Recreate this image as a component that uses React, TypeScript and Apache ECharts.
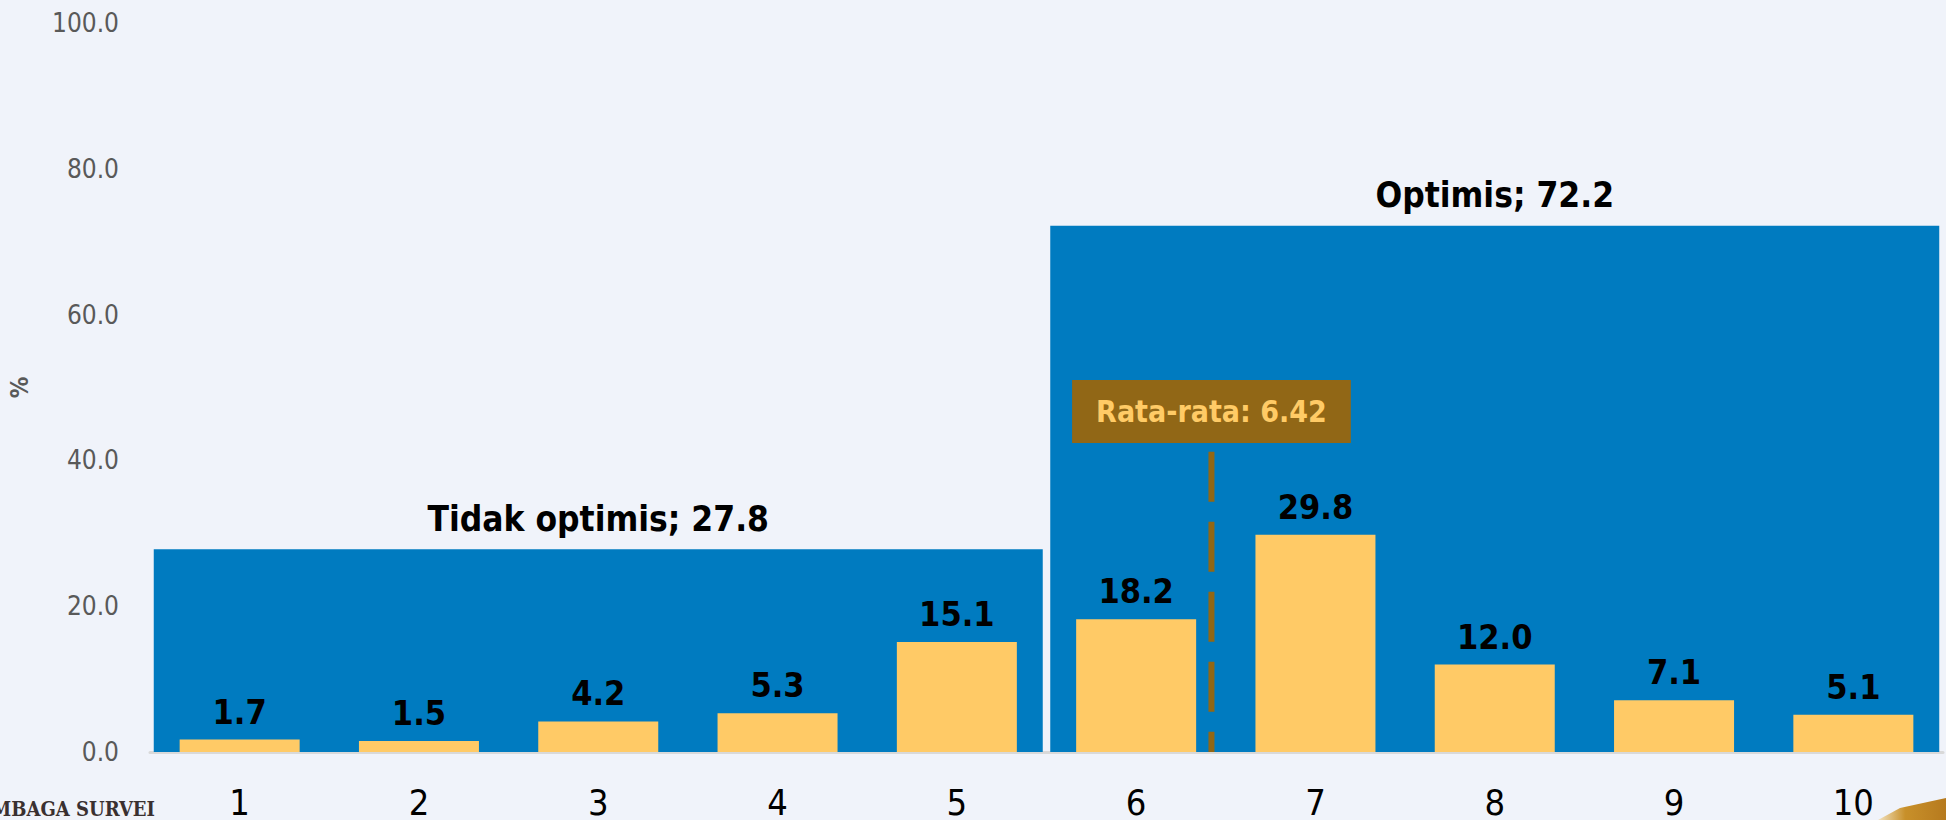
import React, { useEffect, useRef } from "react";
import * as echarts from "echarts";

const categories = ["1", "2", "3", "4", "5", "6", "7", "8", "9", "10"];
const values = [1.7, 1.5, 4.2, 5.3, 15.1, 18.2, 29.8, 12.0, 7.1, 5.1];
const groupNames = ["Tidak optimis", "Optimis"];
const groupValues = [27.8, 72.2];
const meanValue = 6.42;
const meanLineTop = 41.2;
const meanLabelY = 46.7;
const yTicks = [0, 20, 40, 60, 80, 100];

const FONT = "'Liberation Sans Narrow', 'DejaVu Sans Condensed', 'Roboto', sans-serif";

export default function App() {
  const ref = useRef<HTMLDivElement>(null);
  useEffect(() => {
    document.body.style.margin = "0";
    const chart = echarts.init(ref.current!, null, { renderer: "svg" });
    chart.setOption({
      animation: false,
      backgroundColor: "#F0F3FA",
      textStyle: { fontFamily: FONT },
      grid: { left: 150, right: 3, top: 23, bottom: 62 },
      xAxis: [
        {
          type: "category",
          data: categories,
          axisLine: { lineStyle: { color: "#D9D9D9", width: 3 } },
          axisTick: { show: false },
          axisLabel: { color: "#000", fontSize: 36, margin: 32, fontFamily: FONT },
        },
        {
          type: "category",
          data: groupNames,
          show: false,
        },
        {
          type: "value",
          min: 0.5,
          max: 10.5,
          show: false,
        },
      ],
      yAxis: {
        type: "value",
        min: yTicks[0],
        max: yTicks[yTicks.length - 1],
        interval: 20,
        name: "%",
        nameLocation: "middle",
        nameRotate: 90,
        nameGap: 118,
        nameTextStyle: { color: "#595959", fontSize: 24, fontWeight: "bold", fontFamily: FONT },
        axisLine: { show: false },
        axisTick: { show: false },
        splitLine: { show: false },
        axisLabel: {
          color: "#595959",
          fontSize: 26,
          margin: 31,
          fontFamily: FONT,
          formatter: (v: number) => v.toFixed(1),
        },
      },
      series: [
        {
          type: "bar",
          xAxisIndex: 1,
          data: groupValues,
          barWidth: 889,
          itemStyle: { color: "#007BC0" },
          z: 1,
          label: {
            show: true,
            position: "top",
            distance: 13,
            color: "#000",
            fontSize: 35,
            fontWeight: "bold",
            fontFamily: FONT,
            formatter: (p: any) => `${p.name}; ${p.value.toFixed(1)}`,
          },
        },
        {
          type: "bar",
          xAxisIndex: 0,
          data: values,
          barWidth: 120,
          itemStyle: { color: "#FFCA66" },
          z: 3,
          label: {
            show: true,
            position: "top",
            distance: 11,
            color: "#000",
            fontSize: 34,
            fontWeight: "bold",
            fontFamily: FONT,
            formatter: (p: any) => p.value.toFixed(1),
          },
        },
        {
          type: "line",
          xAxisIndex: 2,
          data: [
            [meanValue, meanLineTop],
            [meanValue, 0],
          ],
          symbol: "none",
          lineStyle: { color: "#916716", width: 6, type: [50, 20] },
          z: 4,
        },
        {
          type: "scatter",
          xAxisIndex: 2,
          data: [[meanValue, meanLabelY]],
          symbolSize: 1,
          itemStyle: { color: "rgba(0,0,0,0)", opacity: 1 },
          z: 5,
          label: {
            show: true,
            position: "inside",
            formatter: () => `Rata-rata: ${meanValue.toFixed(2)}`,
            backgroundColor: "#916716",
            color: "#FFCB66",
            fontSize: 30,
            fontWeight: "bold",
            fontFamily: FONT,
            lineHeight: 37,
            padding: [13, 24],
          },
        },
      ],
      graphic: [
        {
          type: "text",
          x: 155,
          y: 809,
          style: {
            text: "LEMBAGA SURVEI",
            align: "right",
            verticalAlign: "middle",
            font: "bold 20px 'DejaVu Serif Condensed', 'DejaVu Serif', serif",
            fill: "#3a3030",
          },
        },
        {
          type: "polygon",
          shape: {
            points: [
              [1878, 820],
              [1900, 808],
              [1946, 798],
              [1946, 820],
            ],
          },
          style: {
            fill: new echarts.graphic.LinearGradient(0, 0, 1, 0, [
              { offset: 0, color: "#F2E2C0" },
              { offset: 0.4, color: "#C8902A" },
              { offset: 1, color: "#B67A1E" },
            ]),
          },
        },
      ],
    });
    return () => chart.dispose();
  }, []);
  return <div ref={ref} style={{ width: 1946, height: 820 }} />;
}
